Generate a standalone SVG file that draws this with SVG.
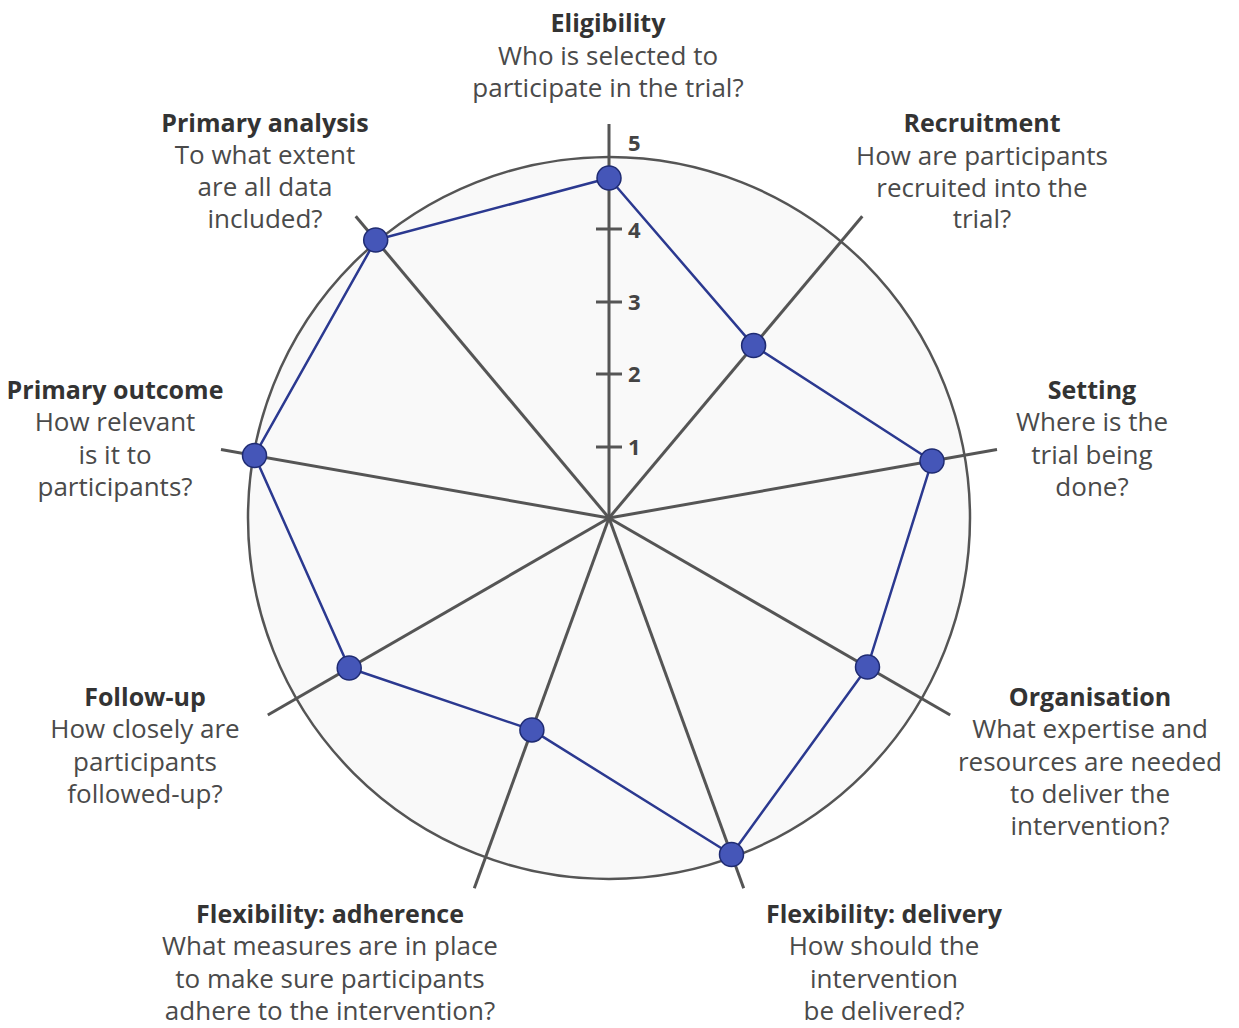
<svg xmlns="http://www.w3.org/2000/svg" width="1239" height="1028" viewBox="0 0 1239 1028">
<style>
text{font-family:"Open Sans","Liberation Sans",sans-serif;text-anchor:middle}
.t{font-size:25px;font-weight:700;fill:#333}
.q{font-size:26px;fill:#4a4a4a}
.n{font-size:22px;font-weight:700;fill:#444;text-anchor:start}
.sp{stroke:#555;stroke-width:3;fill:none}
.dot{fill:#4556b8;stroke:#1f2b72;stroke-width:1.5}
</style>
<rect width="1239" height="1028" fill="#fff"/>
<g id="wheel">
<circle cx="609" cy="518" r="361" fill="#f9f9f9" stroke="#555" stroke-width="2.5"/>
</g>
<g id="connectors">
<line class="sp" x1="609" y1="518" x2="609" y2="124"/>
<line class="sp" x1="609" y1="518" x2="862.3" y2="216.2"/>
<line class="sp" x1="609" y1="518" x2="997" y2="449.6"/>
<line class="sp" x1="609" y1="518" x2="950.2" y2="715"/>
<line class="sp" x1="609" y1="518" x2="743.7" y2="888.2"/>
<line class="sp" x1="609" y1="518" x2="474.3" y2="888.2"/>
<line class="sp" x1="609" y1="518" x2="267.8" y2="715"/>
<line class="sp" x1="609" y1="518" x2="221" y2="449.6"/>
<line class="sp" x1="609" y1="518" x2="355.7" y2="216.2"/>
<g id="ticks">
<line class="sp" x1="596" y1="447" x2="622" y2="447"/>
<line class="sp" x1="596" y1="374" x2="622" y2="374"/>
<line class="sp" x1="596" y1="302" x2="622" y2="302"/>
<line class="sp" x1="596" y1="229" x2="622" y2="229"/>
<text class="n" x="628" y="455">1</text>
<text class="n" x="628" y="382">2</text>
<text class="n" x="628" y="310">3</text>
<text class="n" x="628" y="238">4</text>
<text class="n" x="628" y="151">5</text>
</g>
<polygon id="profile" points="609,178 753.6,345.6 932,461 867.5,667 731.5,854.5 531.9,729.9 349.2,668 254.5,455.5 375.7,240" fill="none" stroke="#2b3990" stroke-width="2.5" stroke-linejoin="round"/>
</g>
<g id="points">
<circle class="dot" cx="609" cy="178" r="12"/>
<circle class="dot" cx="753.6" cy="345.6" r="12"/>
<circle class="dot" cx="932" cy="461" r="12"/>
<circle class="dot" cx="867.5" cy="667" r="12"/>
<circle class="dot" cx="731.5" cy="854.5" r="12"/>
<circle class="dot" cx="531.9" cy="729.9" r="12"/>
<circle class="dot" cx="349.2" cy="668" r="12"/>
<circle class="dot" cx="254.5" cy="455.5" r="12"/>
<circle class="dot" cx="375.7" cy="240" r="12"/>
</g>
<g id="eligibility">
<text class="t" x="608" y="32">Eligibility</text>
<text class="q" x="608" y="65">Who is selected to</text>
<text class="q" x="608" y="97">participate in the trial?</text>
</g>
<g id="recruitment">
<text class="t" x="982" y="132">Recruitment</text>
<text class="q" x="982" y="165">How are participants</text>
<text class="q" x="982" y="197">recruited into the</text>
<text class="q" x="982" y="228">trial?</text>
</g>
<g id="setting">
<text class="t" x="1092" y="399">Setting</text>
<text class="q" x="1092" y="431">Where is the</text>
<text class="q" x="1092" y="464">trial being</text>
<text class="q" x="1092" y="496">done?</text>
</g>
<g id="organisation">
<text class="t" x="1090" y="706">Organisation</text>
<text class="q" x="1090" y="738">What expertise and</text>
<text class="q" x="1090" y="771">resources are needed</text>
<text class="q" x="1090" y="803">to deliver the</text>
<text class="q" x="1090" y="835">intervention?</text>
</g>
<g id="flex-delivery">
<text class="t" x="884" y="923">Flexibility: delivery</text>
<text class="q" x="884" y="955">How should the</text>
<text class="q" x="884" y="988">intervention</text>
<text class="q" x="884" y="1020">be delivered?</text>
</g>
<g id="flex-adherence">
<text class="t" x="330" y="923">Flexibility: adherence</text>
<text class="q" x="330" y="955">What measures are in place</text>
<text class="q" x="330" y="988">to make sure participants</text>
<text class="q" x="330" y="1020">adhere to the intervention?</text>
</g>
<g id="follow-up">
<text class="t" x="145" y="706">Follow-up</text>
<text class="q" x="145" y="738">How closely are</text>
<text class="q" x="145" y="771">participants</text>
<text class="q" x="145" y="803">followed-up?</text>
</g>
<g id="primary-outcome">
<text class="t" x="115" y="399">Primary outcome</text>
<text class="q" x="115" y="431">How relevant</text>
<text class="q" x="115" y="464">is it to</text>
<text class="q" x="115" y="496">participants?</text>
</g>
<g id="primary-analysis">
<text class="t" x="265" y="132">Primary analysis</text>
<text class="q" x="265" y="164">To what extent</text>
<text class="q" x="265" y="196">are all data</text>
<text class="q" x="265" y="228">included?</text>
</g>
</svg>
